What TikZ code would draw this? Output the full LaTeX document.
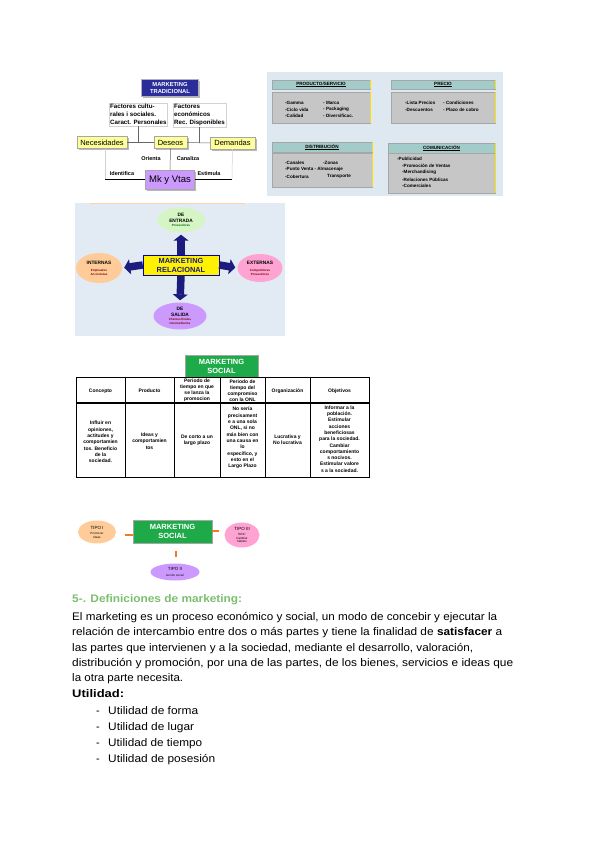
\documentclass[tikz,border=0pt]{standalone}
\usepackage{graphicx}
\usepackage{fontspec}
\setmainfont{Liberation Sans}
\usetikzlibrary{shapes.geometric,shadows,arrows.meta}
\definecolor{navyb}{HTML}{2B2D9A}
\definecolor{paley}{HTML}{FFFF99}
\definecolor{purp}{HTML}{CC99FF}
\definecolor{panelbg}{HTML}{DDE8F1}
\definecolor{hdrteal}{HTML}{A2CBC9}
\definecolor{bodyg}{HTML}{C6C6C6}
\definecolor{relbg}{HTML}{E2EAF3}
\definecolor{elgreen}{HTML}{D6F5C4}
\definecolor{elpeach}{HTML}{FFCC99}
\definecolor{elpink}{HTML}{FFA3D3}
\definecolor{ellav}{HTML}{CC99FF}
\definecolor{arrnavy}{HTML}{1C1C7E}
\definecolor{socgreen}{HTML}{1FAA4A}
\definecolor{headgreen}{HTML}{7BBF6E}
\definecolor{orng}{HTML}{F07A28}
\definecolor{txtnavy}{HTML}{1A1A80}
\newcommand\subfnt{\fontsize{3}{3.6}\selectfont}
\newcommand\wline[2]{\resizebox{#1pt}{\height}{#2}}
\begin{document}
\begin{tikzpicture}[x=1pt,y=-1pt,
  shadowed/.style={drop shadow={shadow xshift=1.5pt,shadow yshift=-1.5pt,fill=gray!55,opacity=1}},
  tradtitle/.style={shadowed,draw=gray!60,fill=navyb,text=white,font=\bfseries\fontsize{5.8}{7}\selectfont,align=center,inner sep=0pt,minimum width=57pt,minimum height=17pt},
  factbox/.style={fill=white,draw=gray!35,font=\bfseries\fontsize{6.2}{8}\selectfont,align=left,inner sep=1pt,anchor=north west},
  ybox/.style={shadowed,draw=gray!70,fill=paley,font=\fontsize{7.5}{9}\selectfont,inner sep=0pt,minimum height=12pt},
  mkbox/.style={shadowed,draw=gray!70,fill=purp,font=\fontsize{9.5}{11}\selectfont,inner sep=0pt,minimum width=49pt,minimum height=19pt},
  lbl/.style={font=\bfseries\fontsize{5.5}{6.5}\selectfont,inner sep=0pt},
  hdr/.style={draw=gray!70,fill=hdrteal,font=\bfseries\fontsize{4.6}{5}\selectfont,inner sep=0pt},
  bdy/.style={draw=gray!70,fill=bodyg,inner sep=0pt},
  bt/.style={font=\bfseries\fontsize{4.6}{5}\selectfont,inner sep=0pt,anchor=west},
  relbox/.style={draw=blue!70!black,fill=yellow,text=txtnavy,font=\bfseries\fontsize{7.4}{9}\selectfont,align=center,inner sep=0pt,minimum width=76pt,minimum height=20pt},
  ell/.style={ellipse,inner sep=0pt,align=center,font=\bfseries\fontsize{4.8}{5.6}\selectfont},
  blockarr/.style={-{Triangle[width=15pt,length=6pt]},line width=7.5pt,arrnavy,shorten >=2pt},
  greenbox/.style={draw=gray!70,fill=socgreen,text=white,font=\bfseries\fontsize{7.5}{9}\selectfont,align=center,inner sep=0pt},
  tcell/.style={font=\bfseries\fontsize{5}{6.3}\selectfont,align=center,inner sep=0pt},
  orline/.style={orng,line width=1.3pt},
  para/.style={font=\fontsize{11}{13}\selectfont,anchor=base west,inner sep=0pt}
]
\useasboundingbox (0,0) rectangle (600,848);

%% ---------- Marketing tradicional ----------
\node[tradtitle] (mt) at (170,88) {MARKETING\\TRADICIONAL};
\node[factbox] (fc) at (109,103) {Factores cultu-\\rales i sociales.\\Caract. Personales};
\node[factbox] (fe) at (173,103) {Factores\\económicos\\Rec. Disponibles};
\node[ybox,minimum width=50pt] (nec) at (102,142.5) {Necesidades};
\node[ybox,minimum width=33pt] (des) at (170.5,142.5) {Deseos};
\node[ybox,minimum width=45pt] (dem) at (232.5,143) {Demandas};
\node[mkbox] (mk) at (170,180) {Mk y Vtas};
\coordinate (j1) at (fc.south |- nec.east);
\coordinate (j2) at (fe.south |- nec.east);
\draw[gray!80!black,line width=0.5pt] (nec.east) -- (des.west);
\draw[gray!80!black,line width=0.5pt] (des.east) -- (dem.west);
\draw[gray!80!black,line width=0.5pt] (fc.south) -- (j1);
\draw[gray!80!black,line width=0.5pt] (fe.south) -- (j2);
\draw[gray!80!black,line width=0.5pt] (des.south) -- (mk.north);
\node[lbl] (ori) at (151,159) {Orienta};
\node[lbl] (can) at (188,159) {Canaliza};
\node[lbl] (ide) at (122,174) {Identifica};
\node[lbl] (est) at (209,174) {Estimula};
\coordinate (idl) at (105,179);
\coordinate (esr) at (232,179);
\draw[black,line width=0.6pt] (idl) -- (idl -| mk.west);
\draw[black,line width=0.6pt] (esr -| mk.east) -- (esr);
\draw[gray!35,line width=0.5pt] (esr) -- (dem.south);
\draw[gray!35,line width=0.5pt] (idl) -- (nec.south -| idl);

%% ---------- 4P panel ----------
\fill[panelbg] (267,72) rectangle (503,196);
\node[hdr,minimum width=98pt,minimum height=9pt] (h1) at (321,84.5) {\underline{PRODUCTO/SERVICIO}};
\node[bdy,minimum width=98pt,minimum height=31pt] (b1) at (321,107.5) {};
\node[hdr,minimum width=104pt,minimum height=9pt] (h2) at (443,84.5) {\underline{PRECIO}};
\node[bdy,minimum width=104pt,minimum height=31pt] (b2) at (443,107.5) {};
\node[hdr,minimum width=100pt,minimum height=10pt] (h3) at (322,147) {\underline{DISTRIBUCIÓN}};
\node[bdy,minimum width=100pt,minimum height=34pt] (b3) at (322,170) {};
\node[hdr,minimum width=107pt,minimum height=10pt] (h4) at (441.5,148) {\underline{COMUNICACIÓN}};
\node[bdy,minimum width=107pt,minimum height=40pt] (b4) at (441.5,173) {};
\foreach \b in {h1,b1,h2,b2,h3,b3,h4,b4}{
  \draw[yellow!80!orange,line width=0.9pt] (\b.north east) -- (\b.south east);}
\node[bt] (p1) at (285,103) {-Gamma};
\node[bt] (p2) at (285,109.5) {-Ciclo vida};
\node[bt] (p3) at (285,116) {-Calidad};
\node[bt] (p4) at (323,103) {- Marca};
\node[bt] (p5) at (323,109.5) {- Packaging};
\node[bt] (p6) at (323,116) {- Diversificac.};
\node[bt] (q1) at (405,103) {-Lista Precios};
\node[bt] (q2) at (405,109.5) {-Descuentos};
\node[bt] (q3) at (443,103) {- Condiciones};
\node[bt] (q4) at (443,109.5) {- Plazo de cobro};
\node[bt] (d1) at (285,163) {-Canales};
\node[bt] (d2) at (285,169.5) {-Punto Venta - Almacenaje};
\node[bt] (d3) at (285,176.5) {-Cobertura};
\node[bt] (d4) at (323,163) {-Zonas};
\node[bt] (d5) at (327,176.5) {Transporte};
\node[bt] (c1) at (397,159) {-Publicidad};
\node[bt] (c2) at (402,166) {-Promoción de Ventas};
\node[bt] (c3) at (402,172.5) {-Merchandising};
\node[bt] (c4) at (402,179.5) {-Relaciones Públicas};
\node[bt] (c5) at (402,186) {-Comerciales};

%% ---------- Marketing relacional ----------
\fill[relbg] (75,203) rectangle (285,336);
\draw[orange!35,line width=1pt] (90,203) -- (245,203);
\node[relbox] (mr) at (181,265) {MARKETING\\RELACIONAL};
\node[ell,fill=elgreen,minimum width=48pt,minimum height=25pt] (ent) at (181,220) {DE\\ENTRADA\\[-1pt]{\subfnt\color{green!40!black}Proveedores}};
\node[ell,fill=elpeach,minimum width=46pt,minimum height=30pt] (int) at (99,268) {INTERNAS\\[2pt]{\subfnt\color{red!50!black}Empleados}\\[-2pt]{\subfnt\color{red!50!black}Accionistas}};
\node[ell,fill=elpink,minimum width=45pt,minimum height=28pt] (ext) at (260,268) {EXTERNAS\\[2pt]{\subfnt\color{red!50!black}Competidores}\\[-2pt]{\subfnt\color{red!50!black}Proveedores}};
\node[ell,fill=ellav,minimum width=53pt,minimum height=27pt] (sal) at (180,316) {DE\\SALIDA\\[-1pt]{\subfnt\color{red!50!black}Clientes finales}\\[-2pt]{\subfnt\color{red!50!black}Intermediarios}};
\draw[blockarr] (mr.north) -- (ent.south);
\draw[blockarr] (mr.west) -- (int.east);
\draw[blockarr] (mr.east) -- (ext.west);
\draw[blockarr] (mr.south) -- (sal.north);

%% ---------- Marketing social table ----------
\node[greenbox,minimum width=73pt,minimum height=22pt] (ms1) at (221.5,366) {MARKETING\\SOCIAL};
\draw[line width=0.6pt] (76,377) rectangle (369,477);
\draw[line width=1.3pt] (76,403) -- (369,403);
\foreach \x in {125,174,220,265,310}{\draw[line width=0.6pt] (\x,377) -- (\x,477);}
\node[tcell] (t1) at (100.5,391) {Concepto};
\node[tcell] (t2) at (149.5,391) {Producto};
\node[tcell,font=\bfseries\fontsize{5}{6}\selectfont] (t3) at (197,390.5) {Periodo de\\tiempo en que\\se lanza la\\promocion};
\node[tcell,font=\bfseries\fontsize{5}{6}\selectfont] (t4) at (242.5,390.5) {Periodo de\\tiempo del\\compromiso\\con la ONL};
\node[tcell] (t5) at (287.5,391) {Organización};
\node[tcell] (t6) at (339.5,391) {Objetivos};
\node[tcell] (u1) at (100.5,442) {Influir en\\opiniones,\\actitudes y\\comportamien\\tos. Beneficio\\de la\\sociedad.};
\node[tcell] (u2) at (149.5,441) {Ideas y\\comportamien\\tos};
\node[tcell] (u3) at (197,440) {De corto a un\\largo plazo};
\node[tcell] (u4) at (242.5,438) {No sería\\precisament\\e a una sola\\ONL, si no\\más bien con\\una causa en\\lo\\específico, y\\esto en el\\Largo Plazo};
\node[tcell] (u5) at (287.5,440) {Lucrativa y\\No lucrativa};
\node[tcell] (u6) at (339.5,439) {Informar a la\\población.\\Estimular\\acciones\\beneficiosas\\para la sociedad.\\Cambiar\\comportamiento\\s nocivos.\\Estimular valore\\s a la sociedad.};

%% ---------- Marketing social tipos ----------
\node[greenbox,minimum width=79pt,minimum height=23pt] (ms2) at (172.5,531.5) {MARKETING\\SOCIAL};
\node[ell,fill=elpeach,minimum width=38pt,minimum height=23pt,font=\fontsize{4.5}{5.5}\selectfont] (ti) at (97,532) {TIPO I\\{\subfnt Promover}\\[-2pt]{\subfnt Ideas}};
\node[ell,fill=elpink,minimum width=35pt,minimum height=25pt,font=\fontsize{4.5}{5.5}\selectfont] (tiii) at (242,535) {TIPO III\\{\subfnt ROC:}\\[-2pt]{\subfnt Cambiar}\\[-2pt]{\subfnt hábitos}};
\node[ell,fill=ellav,minimum width=49pt,minimum height=17pt,font=\fontsize{4.5}{5.5}\selectfont] (tii) at (175,572) {TIPO II\\{\subfnt Acción social}};
\coordinate (oL) at (125,535);
\coordinate (oR) at (219,531);
\coordinate (oD) at (176,557);
\draw[orline] (oL -| ms2.west) -- (oL);
\draw[orline] (oR -| ms2.east) -- (oR);
\draw[orline] (oD |- ms2.south) ++(0,8) -- (oD);

%% ---------- Text ----------
\node[para,text=headgreen,font=\bfseries\fontsize{11}{13}\selectfont] (h5) at (72,602) {\wline{170}{5-. Definiciones de marketing:}};
\node[para] (l1) at (72,620) {\wline{425}{El marketing es un proceso económico y social, un modo de concebir y ejecutar la}};
\node[para] (l2) at (72,635.5) {\wline{430}{relación de intercambio entre dos o más partes y tiene la finalidad de \textbf{satisfacer} a}};
\node[para] (l3) at (72,651) {\wline{401}{las partes que intervienen y a la sociedad, mediante el desarrollo, valoración,}};
\node[para] (l4) at (72,666) {\wline{441}{distribución y promoción, por una de las partes, de los bienes, servicios e ideas que}};
\node[para] (l5) at (72,681.5) {\wline{111}{la otra parte necesita.}};
\node[para,font=\bfseries\fontsize{11}{13}\selectfont] (ut) at (72,697) {\wline{52}{Utilidad:}};
\foreach \t/\yy/\w [count=\i] in {forma/714.5/90,lugar/730/86,tiempo/746/94,posesión/762/107}{
  \node[para] (dash\i) at (96,\yy) {-};
  \node[para] (util\i) at (108,\yy) {\wline{\w}{Utilidad de \t}};
}
\end{tikzpicture}
\end{document}
